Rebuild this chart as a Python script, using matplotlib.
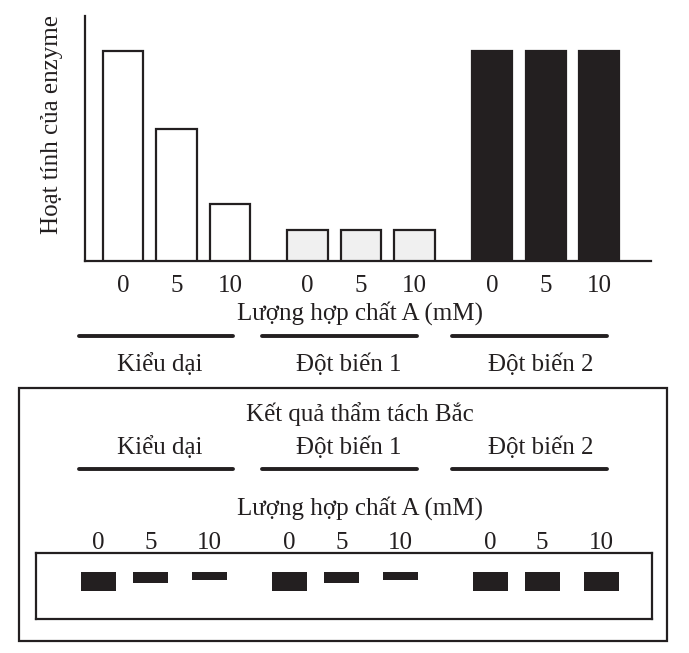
import numpy as np
import matplotlib
matplotlib.use("Agg")
import matplotlib.pyplot as plt
from matplotlib.patches import Rectangle

plt.rcParams['font.family'] = ['Liberation Serif', 'DejaVu Serif']

# data
groups = ["Kiểu dại", "Đột biến 1", "Đột biến 2"]
doses = ["0", "5", "10"]
activity = [100, 63, 27, 15, 15, 15, 100, 100, 100]   # enzyme activity (relative)
band_amount = [1.0, 0.58, 0.42, 1.0, 0.58, 0.42, 1.0, 1.0, 1.0]  # northern blot signal
xlabel = "Lượng hợp chất A (mM)"
ylabel = "Hoạt tính của enzyme"
blot_title = "Kết quả thẩm tách Bắc"

W, H = 689, 653
INK = "#231f20"
FS = 18
fig = plt.figure(figsize=(W / 100, H / 100), dpi=100)


def px_axes(x0, y0, x1, y1):
    return fig.add_axes([x0 / W, 1 - y1 / H, (x1 - x0) / W, (y1 - y0) / H])


# overlay for text, lines and the outer box (pixel coords)
ov = fig.add_axes([0, 0, 1, 1])
ov.set_xlim(0, W)
ov.set_ylim(H, 0)
ov.axis("off")

# ---- bar chart ----
ax = px_axes(85, 16, 651, 261)
xpos = np.array([g * 3.45 + i for g in range(3) for i in range(3)])
fills = ["white"] * 3 + ["#f0f0f0"] * 3 + [INK] * 3
ax.bar(xpos, activity, width=0.75, color=fills, edgecolor=INK, linewidth=1.6, zorder=3)
ax.set_xlim(-0.71, 9.87)
ax.set_ylim(0, 116.7)
ax.set_yticks([])
ax.set_xticks(xpos)
ax.set_xticklabels(doses * 3, fontsize=FS, color=INK)
ax.tick_params(axis="x", length=0, pad=10)
for s in ["top", "right"]:
    ax.spines[s].set_visible(False)
for s in ["left", "bottom"]:
    ax.spines[s].set_linewidth(1.6)
    ax.spines[s].set_color(INK)
ax.patch.set_alpha(0)

ov.text(52, 124, ylabel, rotation=90, ha="center", va="center", fontsize=FS, color=INK)
ov.text(360, 313, xlabel, ha="center", va="center", fontsize=FS, color=INK)

line_x = [(79, 233), (262, 417), (452, 607)]
label_x = [160, 349, 541]
for (a, b), lx, name in zip(line_x, label_x, groups):
    ov.plot([a, b], [336, 336], color=INK, lw=2.8, solid_capstyle="round")
    ov.text(lx, 365, name, ha="center", va="center", fontsize=FS, color=INK)
    ov.plot([a, b], [469, 469], color=INK, lw=2.8, solid_capstyle="round")
    ov.text(lx, 448, name, ha="center", va="center", fontsize=FS, color=INK)

# outer box
ov.add_patch(Rectangle((19, 388), 648, 253, fill=False, ec=INK, lw=1.6))
ov.text(360, 414, blot_title, ha="center", va="center", fontsize=FS, color=INK)
ov.text(360, 508, xlabel, ha="center", va="center", fontsize=FS, color=INK)

# ---- blot ----
gel = px_axes(36, 553, 652, 619)
gel.set_xlim(36, 652)
gel.set_ylim(619, 553)
lane_x = np.array([base + off for base in (98.5, 289.5, 490) for off in (0, 52, 111)])
gel.bar(lane_x, np.array(band_amount) * 19, bottom=572, width=35, color=INK, lw=0)
gel.set_yticks([])
gel.set_xticks(lane_x)
gel.set_xticklabels(doses * 3, fontsize=FS, color=INK)
gel.tick_params(axis="x", length=0, pad=-1, top=True, labeltop=True, bottom=False, labelbottom=False)
for s in gel.spines.values():
    s.set_linewidth(1.6)
    s.set_color(INK)

fig.savefig("out.png", dpi=100)
